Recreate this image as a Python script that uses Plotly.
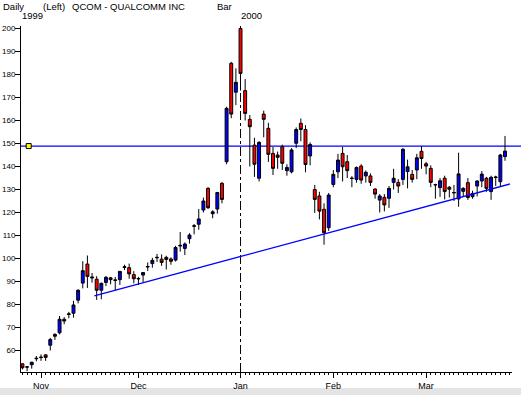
import pandas as pd
import plotly.graph_objects as go

# ---------------- data ----------------
START = "1999-10-26"
END = "2000-03-24"
HOLIDAYS = ["1999-11-25", "1999-12-24", "2000-01-17", "2000-02-21"]

OPEN = [54.2, 52.9, 53.8, 56.4, 56.9, 58.1, 62.3, 67.0, 67.7, 73.6,
        75.7, 76.2, 81.9, 89.3, 97.6, 92.0, 91.0, 86.2, 89.6, 91.6,
        90.7, 90.8, 96.1, 96.0, 93.0, 91.1, 92.8, 96.3, 97.8, 100.3,
        99.7, 100.5, 99.8, 99.3, 105.4, 104.4, 108.6, 114.0, 114.9, 121.1,
        130.5, 119.5, 121.5, 132.7, 142.1, 184.9, 172.3, 200.0, 173.0, 160.5,
        149.3, 134.9, 162.8, 156.6, 145.7, 145.0, 148.6, 138.2, 137.7, 150.1,
        158.8, 156.1, 144.6, 130.0, 127.2, 121.4, 113.4, 132.2, 137.7, 145.7,
        142.1, 134.8, 134.4, 140.2, 135.9, 135.9, 130.2, 125.4, 126.6, 126.2,
        133.1, 133.1, 134.4, 137.8, 136.6, 138.5, 146.6, 141.2, 139.2, 132.0,
        130.8, 134.9, 131.0, 128.5, 125.9, 129.2, 133.0, 126.9, 131.5, 133.7,
        134.9, 129.1, 135.2, 133.4, 144.3]
HIGH = [54.5, 53.2, 55.1, 57.6, 58.3, 58.4, 65.5, 67.5, 75.0, 74.5,
        76.8, 81.6, 86.6, 98.8, 101.3, 93.7, 92.3, 89.5, 92.4, 92.0,
        92.0, 94.6, 97.3, 97.8, 94.5, 92.0, 94.0, 98.3, 100.3, 102.0,
        101.8, 101.2, 100.5, 105.5, 111.5, 107.0, 111.0, 115.0, 121.5, 126.5,
        131.0, 121.0, 129.0, 133.2, 166.0, 185.5, 182.7, 200.5, 178.0, 162.4,
        152.5, 151.0, 164.3, 159.0, 148.5, 146.5, 149.5, 141.0, 148.0, 157.0,
        160.9, 158.0, 150.5, 132.0, 129.0, 124.0, 128.5, 138.5, 145.5, 148.5,
        145.0, 135.8, 140.0, 141.0, 138.3, 137.0, 130.5, 128.0, 128.0, 131.5,
        139.0, 134.5, 148.0, 143.0, 138.5, 145.5, 148.9, 142.0, 140.5, 132.5,
        135.0, 136.0, 131.5, 132.0, 146.0, 131.0, 135.0, 129.5, 134.0, 138.0,
        135.5, 136.0, 136.0, 145.5, 153.3]
LOW = [51.8, 51.0, 52.1, 55.3, 55.5, 55.5, 60.0, 64.6, 67.0, 71.4,
       74.0, 74.3, 80.5, 87.0, 87.2, 89.5, 82.0, 82.3, 88.0, 88.8,
       86.0, 88.5, 95.0, 91.2, 89.2, 88.5, 89.8, 94.6, 96.0, 98.5,
       96.8, 95.2, 97.3, 98.7, 103.0, 101.5, 106.5, 110.5, 112.5, 120.0,
       121.5, 117.5, 119.5, 124.0, 141.0, 161.0, 166.7, 173.0, 160.0, 140.0,
       135.5, 133.5, 152.7, 142.0, 136.3, 139.0, 138.5, 136.0, 137.0, 148.0,
       151.0, 137.5, 140.5, 119.8, 117.0, 106.0, 112.0, 131.0, 135.0, 133.5,
       135.0, 131.0, 133.0, 132.5, 133.0, 131.5, 126.0, 120.0, 120.5, 122.0,
       130.0, 128.5, 132.0, 130.5, 133.0, 134.5, 139.0, 136.6, 131.0, 126.0,
       126.8, 125.7, 126.5, 125.0, 122.5, 127.0, 125.5, 126.0, 127.0, 131.0,
       129.0, 125.5, 131.5, 131.5, 142.5]
CLOSE = [52.5, 52.8, 54.9, 56.6, 57.1, 57.0, 64.8, 66.2, 73.6, 72.8,
         75.9, 79.8, 86.2, 94.7, 92.2, 91.6, 86.2, 89.2, 91.8, 90.8,
         90.5, 94.4, 96.4, 93.3, 91.2, 91.3, 93.9, 96.5, 99.2, 100.5,
         98.3, 99.6, 98.8, 104.8, 105.7, 106.3, 110.2, 114.2, 117.2, 125.0,
         122.1, 120.3, 128.7, 125.7, 165.3, 162.8, 176.6, 180.5, 163.1, 157.3,
         141.0, 150.5, 160.5, 145.3, 139.2, 144.0, 141.4, 139.6, 147.2, 156.1,
         156.1, 140.9, 149.6, 125.7, 120.6, 111.2, 127.6, 136.6, 142.8, 139.9,
         138.2, 134.9, 139.6, 134.1, 137.5, 133.1, 128.0, 127.2, 123.3, 130.5,
         134.9, 131.5, 147.5, 139.9, 134.4, 143.8, 143.5, 140.2, 133.1, 132.1,
         133.8, 129.1, 130.1, 128.7, 136.8, 130.5, 126.5, 128.3, 133.7, 136.7,
         130.5, 135.3, 135.4, 145.0, 146.7]

MONTH_LABELS = ["Nov", "Dec", "Jan", "Feb", "Mar"]
MONTH_STARTS = ["1999-11-01", "1999-12-01", "2000-01-03", "2000-02-01", "2000-03-01"]
YEAR_LABELS = ["1999", "2000"]
YEAR_STARTS = ["1999-10-26", "2000-01-03"]
Y_TICKS = list(range(60, 201, 10))

RESISTANCE = 148.9
RESIST_MARK_POS = [1.35]          # bar position of the line handle
TREND_POS = [15.5, 105.1]         # bar positions of trend line ends
TREND_VAL = [83.8, 132.4]

TITLE_PARTS = ["Daily", "(Left)", "QCOM - QUALCOMM INC", "Bar"]

# ---------------- build ----------------
dates = [d.strftime("%Y-%m-%d") for d in pd.bdate_range(START, END)
         if d.strftime("%Y-%m-%d") not in HOLIDAYS]
pos = {d: k for k, d in enumerate(dates)}
xs = list(range(len(dates)))

FONT = "Arial, 'Liberation Sans', sans-serif"

PLOT_L, PLOT_R, PLOT_T, PLOT_B = 21, 512, 26, 372
PX_PER_BAR = 4.64
NOV_PX = 41
x_left = (PLOT_L - NOV_PX) / PX_PER_BAR + pos[MONTH_STARTS[0]]
x_right = (PLOT_R - NOV_PX) / PX_PER_BAR + pos[MONTH_STARTS[0]]
pw = PLOT_R - PLOT_L
ph = PLOT_B - PLOT_T


def bar_px(k):
    return PLOT_L + (k - x_left) / (x_right - x_left) * pw


fig = go.Figure()

fig.add_trace(go.Candlestick(
    x=xs, open=OPEN, high=HIGH, low=LOW, close=CLOSE,
    increasing=dict(line=dict(color="black", width=1), fillcolor="#0000ff"),
    decreasing=dict(line=dict(color="black", width=1), fillcolor="#ff0000"),
    whiskerwidth=0, showlegend=False, hoverinfo="skip",
))

fig.add_trace(go.Scatter(
    x=TREND_POS, y=TREND_VAL, mode="lines",
    line=dict(color="#0000ff", width=1.3), showlegend=False, hoverinfo="skip",
))

fig.add_trace(go.Scatter(
    x=RESIST_MARK_POS, y=[RESISTANCE], mode="markers",
    marker=dict(symbol="square", size=5, color="#ffff00",
                line=dict(color="black", width=1)),
    showlegend=False, hoverinfo="skip",
))

# resistance line (extends to the right edge of the picture)
fig.add_shape(type="line", xref="paper", yref="y", x0=0, x1=(521 - PLOT_L) / pw,
              y0=RESISTANCE, y1=RESISTANCE,
              line=dict(color="#0000ff", width=1.3), layer="below")

# year separator
fig.add_shape(type="line", xref="x", yref="paper",
              x0=pos[YEAR_STARTS[1]], x1=pos[YEAR_STARTS[1]], y0=0, y1=1,
              line=dict(color="black", width=1, dash="dashdot"), layer="below")

# grey strip at the very bottom
fig.add_shape(type="rect", xref="paper", yref="paper",
              x0=-PLOT_L / pw, x1=(521 - PLOT_L) / pw,
              y0=(PLOT_B - 396) / ph, y1=(PLOT_B - 388) / ph,
              line=dict(width=0), fillcolor="#e4e4e4", layer="below")

# header texts
title_px = [2, 42, 71, 216]
for txt, px in zip(TITLE_PARTS, title_px):
    fig.add_annotation(text=txt, xref="paper", yref="paper", x=0, y=1,
                       xanchor="left", yanchor="middle",
                       xshift=px - PLOT_L - 1, yshift=PLOT_T - 6.5,
                       showarrow=False,
                       font=dict(family=FONT, size=9.5, color="black"))

for txt, d in zip(YEAR_LABELS, YEAR_STARTS):
    fig.add_annotation(text=txt, xref="paper", yref="paper", x=0, y=1,
                       xanchor="left", yanchor="middle",
                       xshift=bar_px(pos[d]) - PLOT_L - 2,
                       yshift=PLOT_T - 15.5, showarrow=False,
                       font=dict(family=FONT, size=9.5, color="black"))

fig.update_layout(
    width=521, height=395,
    margin=dict(l=PLOT_L, r=521 - PLOT_R, t=PLOT_T, b=395 - PLOT_B,
                autoexpand=False),
    paper_bgcolor="white", plot_bgcolor="white",
    boxgap=0.1,
    font=dict(family=FONT, size=9, color="black"),
    xaxis=dict(
        range=[x_left, x_right], rangeslider=dict(visible=False),
        automargin=False,
        showgrid=False, zeroline=False, showline=True, linecolor="black",
        linewidth=1, ticks="outside", ticklen=5, tickcolor="black",
        tickvals=[pos[d] for d in MONTH_STARTS], ticktext=MONTH_LABELS,
        tickfont=dict(family=FONT, size=9, color="black"),
        minor=dict(tickmode="linear", tick0=0, dtick=1, ticks="outside",
                   ticklen=2, tickcolor="black", showgrid=False),
        fixedrange=True,
    ),
    yaxis=dict(
        range=[50.65, 201.1], showgrid=False, zeroline=False,
        automargin=False,
        showline=True, linecolor="black", linewidth=1,
        ticks="outside", ticklen=5, tickcolor="black",
        ticklabelstandoff=-2,
        tickvals=Y_TICKS, ticktext=[str(v) for v in Y_TICKS],
        tickfont=dict(family=FONT, size=8, color="black"),
        fixedrange=True,
    ),
)

fig.write_html(
    "out.html",
    config={"displayModeBar": False},
    post_script="document.body.style.margin='0';document.body.style.padding='0';",
)
